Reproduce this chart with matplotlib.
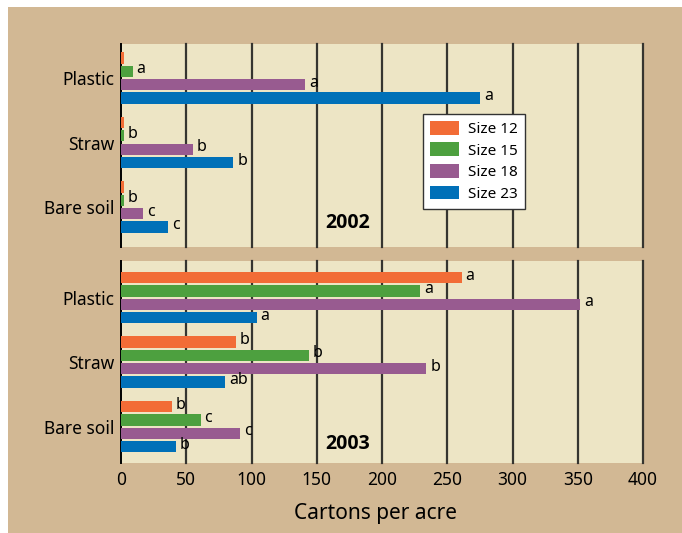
import numpy as np
import matplotlib.pyplot as plt
from matplotlib.patches import Rectangle, Patch

plt.rcParams['font.family'] = ['Noto Sans', 'DejaVu Sans']

# Data
mulches = ["Plastic", "Straw", "Bare soil"]
sizes = ["Size 12", "Size 15", "Size 18", "Size 23"]
colors = ["#F26C36", "#4DA03F", "#985B90", "#0070B8"]

vals_2002 = {
    "Size 12": [2, 2, 2],
    "Size 15": [9, 2, 2],
    "Size 18": [141, 55, 17],
    "Size 23": [275, 86, 36],
}
letters_2002 = {
    "Size 12": ["", "", ""],
    "Size 15": ["a", "b", "b"],
    "Size 18": ["a", "b", "c"],
    "Size 23": ["a", "b", "c"],
}
vals_2003 = {
    "Size 12": [261, 88, 39],
    "Size 15": [229, 144, 61],
    "Size 18": [352, 234, 91],
    "Size 23": [104, 80, 42],
}
letters_2003 = {
    "Size 12": ["a", "b", "b"],
    "Size 15": ["a", "b", "c"],
    "Size 18": ["a", "b", "c"],
    "Size 23": ["a", "ab", "b"],
}

brown = "#D2B894"
cream = "#EDE5C5"
grid_col = "#363530"

fig = plt.figure(figsize=(6.82, 5.33), dpi=100, facecolor="white")
fig.patches.append(Rectangle((8 / 682, 0), 1, 1 - 7 / 533, transform=fig.transFigure,
                             facecolor=brown, edgecolor="none", zorder=-10))

ax1 = fig.add_axes([121 / 682, 1 - 247 / 533, 522 / 682, 203 / 533])
ax2 = fig.add_axes([121 / 682, 1 - 463 / 533, 522 / 682, 202 / 533])

step = 0.207
bh = 0.175
ypos = np.arange(len(mulches))


def draw_panel(ax, vals, letters, year, ylim, year_y):
    ax.set_facecolor(cream)
    for i, s in enumerate(sizes):
        off = (i - 1.5) * step
        bars = ax.barh(ypos + off, vals[s], height=bh, color=colors[i], zorder=3)
        for b, lab in zip(bars, letters[s]):
            if lab:
                ax.text(b.get_width() + 3, b.get_y() + b.get_height() / 2 - 0.03, lab,
                        va="center", ha="left", fontsize=11.5, zorder=4)
    for x in range(50, 401, 50):
        ax.axvline(x, color=grid_col, lw=1.6, zorder=1, clip_on=False)
    ax.set_xlim(0, 400)
    ax.set_ylim(*ylim)
    for sp in ["top", "right", "bottom"]:
        ax.spines[sp].set_visible(False)
    ax.spines["left"].set_color("black")
    ax.spines["left"].set_linewidth(1.4)
    ax.set_yticks(ypos)
    ax.set_yticklabels(mulches, fontsize=12.5)
    ax.tick_params(axis="y", length=0, pad=5)
    ax.text(0.435, year_y, year, transform=ax.transAxes, ha="center", va="center",
            fontsize=14, fontweight="bold", family=["Open Sans", "DejaVu Sans"])


draw_panel(ax1, vals_2002, letters_2002, "2002", (2.62, -0.527), 0.118)
draw_panel(ax2, vals_2003, letters_2003, "2003", (2.563, -0.566), 0.094)

ax1.set_xticks([])
ax2.set_xticks(range(0, 401, 50))
ax2.tick_params(axis="x", length=0, pad=6, labelsize=12.5)
ax2.set_xlabel("Cartons per acre", fontsize=15, labelpad=6)
ax2.xaxis.set_label_coords(0.488, -0.2)

handles = [Patch(facecolor=c, edgecolor="none") for c in colors]
leg = ax1.legend(handles, sizes, loc="upper left", bbox_to_anchor=(0.579, 0.655),
                 fontsize=11, frameon=True, fancybox=False, framealpha=1,
                 edgecolor="#333333", handlelength=1.9, handleheight=1.0,
                 labelspacing=0.36, borderpad=0.45, handletextpad=0.6, borderaxespad=0)
leg.get_frame().set_linewidth(1.0)
leg.set_zorder(5)

fig.savefig("out.png", dpi=100, facecolor=fig.get_facecolor())
